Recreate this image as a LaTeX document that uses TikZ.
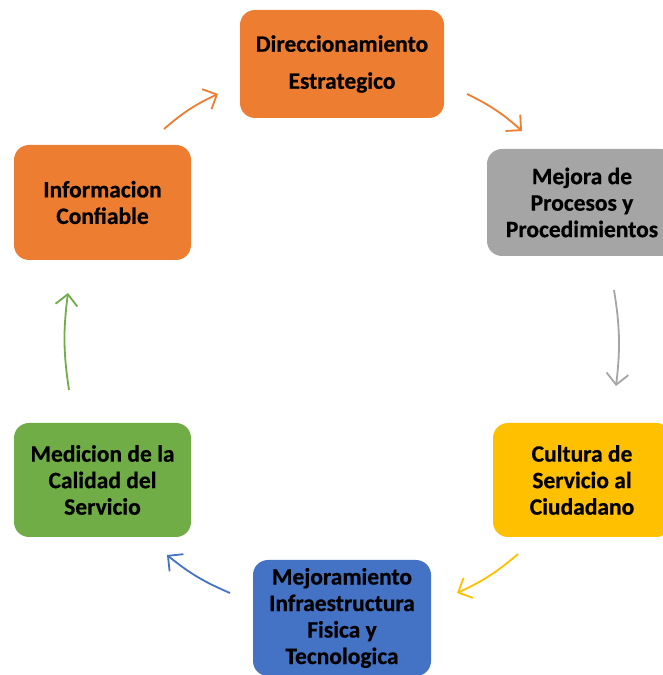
\documentclass[tikz,border=0pt]{standalone}
\usepackage{fontspec}
\setmainfont{Carlito}[BoldFeatures={FakeBold=0.6}]
\usetikzlibrary{arrows.meta}
\definecolor{corange}{HTML}{ED7D31}
\definecolor{cgray}{HTML}{A5A5A5}
\definecolor{cyellow}{HTML}{FFC000}
\definecolor{cblue}{HTML}{4472C4}
\definecolor{cgreen}{HTML}{70AD47}
\tikzset{
  stepbox/.style={rounded corners=15pt, inner sep=0pt, align=center,
    font=\fontsize{23.5}{26.5}\selectfont\bfseries, text=black},
  flow/.style={line width=1.8pt, -{Straight Barb[length=11pt,width=22pt,line width=1.8pt]}, bend left=8}
}
\begin{document}
\begin{tikzpicture}[x=1pt,y=1pt]
\useasboundingbox (0,0) rectangle (662,675);
\node[stepbox, fill=corange, minimum width=204pt, minimum height=108pt,
  font=\fontsize{23.5}{37}\selectfont\bfseries] (dir) at (342,611) {Direccionamiento\\Estrategico};
\node[stepbox, fill=cgray, minimum width=190pt, minimum height=107pt] (mej) at (582,472.5) {Mejora de\\Procesos y\\Procedimientos};
\node[stepbox, fill=cyellow, minimum width=178pt, minimum height=114pt] (cul) at (582,195) {Cultura de\\Servicio al\\Ciudadano};
\node[stepbox, fill=cblue, minimum width=178pt, minimum height=116pt] (mjr) at (342,57) {Mejoramiento\\Infraestructura\\Fisica y\\Tecnologica};
\node[stepbox, fill=cgreen, minimum width=177pt, minimum height=114pt] (med) at (102.5,195) {Medicion de la\\Calidad del\\Servicio};
\node[stepbox, fill=corange, minimum width=177pt, minimum height=115pt] (inf) at (102.5,472.5) {Informacion\\Confiable};
% arrow end points
\coordinate (a1s) at (164,546); \coordinate (a1e) at (218,581);
\coordinate (a2s) at (467,581); \coordinate (a2e) at (522,544);
\coordinate (a3s) at (614,385); \coordinate (a3e) at (616,289);
\coordinate (a4s) at (518,121); \coordinate (a4e) at (457,82);
\coordinate (a5s) at (230,82); \coordinate (a5e) at (167,120);
\coordinate (a6s) at (69,285); \coordinate (a6e) at (68,382);
\draw[flow, corange] (a1s) to (a1e);
\draw[flow, corange] (a2s) to (a2e);
\draw[flow, cgray] (a3s) to (a3e);
\draw[flow, cyellow] (a4s) to (a4e);
\draw[flow, cblue] (a5s) to (a5e);
\draw[flow, cgreen] (a6s) to (a6e);
\end{tikzpicture}
\end{document}
